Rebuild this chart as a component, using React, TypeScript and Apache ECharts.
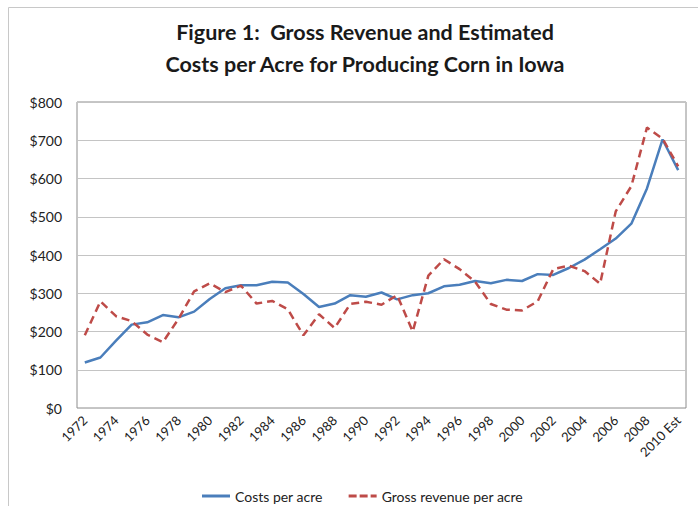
import React, { useEffect, useRef } from "react";
import * as echarts from "echarts";

const years: string[] = [
  "1972", "1973", "1974", "1975", "1976", "1977", "1978", "1979", "1980", "1981",
  "1982", "1983", "1984", "1985", "1986", "1987", "1988", "1989", "1990", "1991",
  "1992", "1993", "1994", "1995", "1996", "1997", "1998", "1999", "2000", "2001",
  "2002", "2003", "2004", "2005", "2006", "2007", "2008", "2009", "2010 Est",
];

const costsPerAcre: number[] = [
  119, 132, 176, 218, 224, 243, 237, 252, 285, 313,
  321, 321, 330, 328, 298, 264, 273, 295, 291, 302,
  284, 295, 300, 318, 322, 332, 326, 335, 332, 350,
  348, 366, 388, 415, 443, 482, 574, 702, 622,
];

const grossRevenuePerAcre: number[] = [
  190, 279, 240, 227, 192, 172, 233, 305, 326, 303,
  320, 273, 280, 258, 190, 245, 209, 272, 278, 270,
  295, 200, 346, 389, 363, 330, 272, 257, 255, 279,
  363, 372, 358, 325, 514, 580, 733, 704, 632,
];

const yTicks = { min: 0, max: 800, interval: 100 };

export default function App() {
  const ref = useRef<HTMLDivElement>(null);
  useEffect(() => {
    if (!ref.current) return;
    const chart = echarts.init(ref.current, null, { renderer: "svg" });
    const font = "Lato, 'Open Sans', sans-serif";
    chart.setOption({
      animation: false,
      backgroundColor: "#ffffff",
      textStyle: { fontFamily: font },
      graphic: [
        {
          type: "rect",
          shape: { x: 8.5, y: 7.5, width: 720, height: 520 },
          style: { fill: "none", stroke: "#c8c8c8", lineWidth: 1 },
          silent: true,
        },
        {
          type: "text",
          x: 365,
          y: 16,
          style: {
            text: "Figure 1:  Gross Revenue and Estimated\nCosts per Acre for Producing Corn in Iowa",
            textAlign: "center",
            font: `bold 21.5px ${font}`,
            lineHeight: 32,
            fill: "#1a1a1a",
          },
        },
      ],
      legend: {
        left: 197,
        top: 484,
        itemWidth: 28,
        itemHeight: 3,
        itemGap: 26,
        textStyle: { fontFamily: font, fontSize: 14, color: "#222" },
        data: [
          { name: "Costs per acre", icon: "rect" },
          {
            name: "Gross revenue per acre",
            icon: "path://M0 0h8v3H0z M11 0h8v3h-8z M22 0h6v3h-6z",
          },
        ],
      },
      grid: {
        left: 77,
        top: 102,
        right: 12,
        bottom: 98,
        show: true,
        borderColor: "#8c8c8c",
        borderWidth: 1,
      },
      xAxis: {
        type: "category",
        data: years,
        boundaryGap: true,
        axisLine: { show: false },
        axisTick: { show: false },
        axisLabel: {
          interval: 1,
          rotate: 45,
          fontFamily: font,
          fontSize: 13,
          color: "#222",
          margin: 10,
        },
      },
      yAxis: {
        type: "value",
        min: yTicks.min,
        max: yTicks.max,
        interval: yTicks.interval,
        axisLine: { show: false },
        axisTick: { show: false },
        splitLine: { lineStyle: { color: "#c4c4c4", width: 1 } },
        axisLabel: {
          formatter: (v: number) => "$" + v,
          fontFamily: font,
          fontSize: 14,
          color: "#222",
          margin: 15,
        },
      },
      series: [
        {
          name: "Costs per acre",
          type: "line",
          data: costsPerAcre,
          symbol: "none",
          color: "#4a7ebb",
          lineStyle: { color: "#4a7ebb", width: 2.5 },
        },
        {
          name: "Gross revenue per acre",
          type: "line",
          data: grossRevenuePerAcre,
          symbol: "none",
          color: "#be4b48",
          lineStyle: { color: "#be4b48", width: 2.5, type: [8, 5] },
        },
      ],
    });
    return () => chart.dispose();
  }, []);
  return <div ref={ref} style={{ width: 698, height: 506, position: "absolute", left: 0, top: 0 }} />;
}
